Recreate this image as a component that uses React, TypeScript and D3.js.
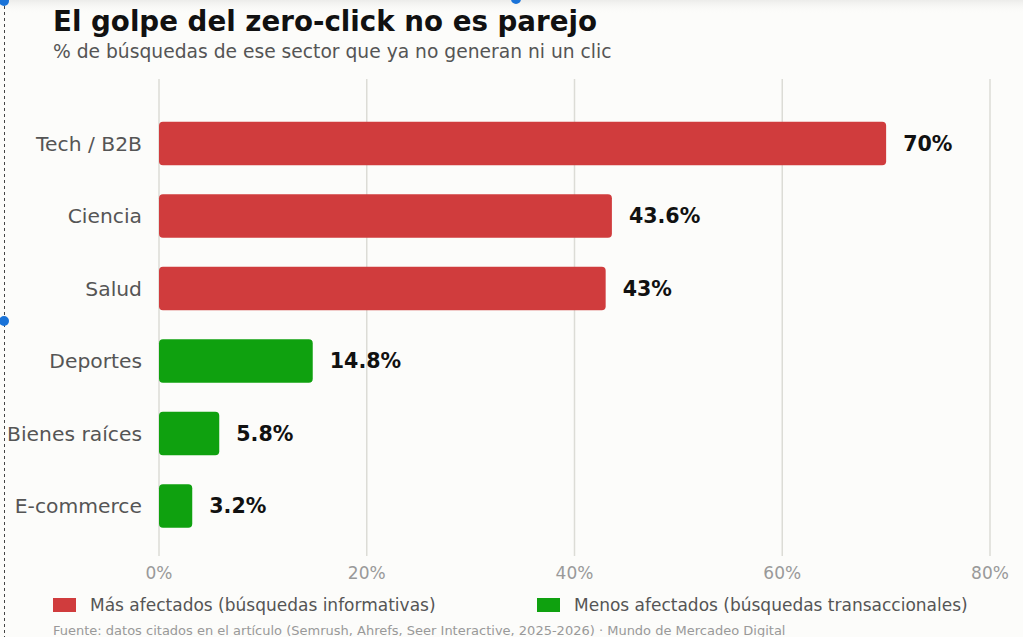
import React from "react";
import * as d3 from "d3";

const categories = ["Tech / B2B", "Ciencia", "Salud", "Deportes", "Bienes raíces", "E-commerce"];
const values = [70, 43.6, 43, 14.8, 5.8, 3.2];
const groups = ["more", "more", "more", "less", "less", "less"];
const xTicks = [0, 20, 40, 60, 80];
const legendLabels = ["Más afectados (búsquedas informativas)", "Menos afectados (búsquedas transaccionales)"];

const W = 1023;
const H = 637;
const FONT = "'DejaVu Sans', Verdana, sans-serif";
const RED = "#d03c3d";
const GREEN = "#0fa10f";

export default function App() {
  const x = d3.scaleLinear().domain([0, 80]).range([159, 990]);
  const y = d3
    .scaleBand<string>()
    .domain(categories)
    .range([107.25, 542.25])
    .paddingInner(0.4)
    .paddingOuter(0.2);
  const color = (g: string) => (g === "more" ? RED : GREEN);
  const fmt = (v: number) => `${v}%`;

  return (
    <svg
      width={W}
      height={H}
      style={{ position: "fixed", left: 0, top: 0, background: "#fcfcfa" }}
    >
      <defs>
        <linearGradient id="topShade" x1="0" y1="0" x2="0" y2="1">
          <stop offset="0" stopColor="#ececea" />
          <stop offset="1" stopColor="#fcfcfa" stopOpacity="0" />
        </linearGradient>
      </defs>
      <rect x={0} y={0} width={W} height={H} fill="#fcfcfa" />
      <rect x={0} y={0} width={W} height={14} fill="url(#topShade)" />

      <text x={53} y={31} fontFamily={FONT} fontWeight="bold" fontSize={27.7} fill="#111">
        El golpe del zero-click no es parejo
      </text>
      <text x={53} y={58} fontFamily={FONT} fontSize={18.7} fill="#555">
        % de búsquedas de ese sector que ya no generan ni un clic
      </text>

      {xTicks.map((t) => (
        <g key={t}>
          <line x1={x(t)} x2={x(t)} y1={79} y2={556} stroke="#dcdcd6" strokeWidth={1.5} />
          <text
            x={x(t)}
            y={579}
            textAnchor="middle"
            fontFamily={FONT}
            fontSize={17}
            fill="#999"
          >
            {fmt(t)}
          </text>
        </g>
      ))}

      {categories.map((c, i) => {
        const y0 = y(c) as number;
        const bw = y.bandwidth();
        const v = values[i];
        return (
          <g key={c}>
            <rect
              x={x(0)}
              y={y0}
              width={x(v) - x(0)}
              height={bw}
              rx={4}
              ry={4}
              fill={color(groups[i])}
            />
            <text
              x={142}
              y={y0 + bw / 2}
              dy="0.36em"
              textAnchor="end"
              fontFamily={FONT}
              fontSize={20.3}
              fill="#555"
            >
              {c}
            </text>
            <text
              x={x(v) + 17}
              y={y0 + bw / 2}
              dy="0.36em"
              fontFamily={FONT}
              fontWeight="bold"
              fontSize={20.6}
              fill="#111"
            >
              {fmt(v)}
            </text>
          </g>
        );
      })}

      {legendLabels.map((l, i) => {
        const lx = i === 0 ? 53 : 537;
        return (
          <g key={l}>
            <rect x={lx} y={598} width={23} height={14} fill={i === 0 ? RED : GREEN} />
            <text x={lx + 37} y={611} fontFamily={FONT} fontSize={17} fill="#555">
              {l}
            </text>
          </g>
        );
      })}

      <text x={53} y={635} fontFamily={FONT} fontSize={13} fill="#999">
        Fuente: datos citados en el artículo (Semrush, Ahrefs, Seer Interactive, 2025-2026) · Mundo de Mercadeo Digital
      </text>

      <line x1={4.5} x2={4.5} y1={0} y2={H} stroke="#444" strokeWidth={1} strokeDasharray="3,3" />
      <circle cx={4} cy={1} r={5} fill="#1a73d8" />
      <circle cx={516} cy={-1} r={5} fill="#1a73d8" />
      <circle cx={4} cy={321} r={5} fill="#1a73d8" />
    </svg>
  );
}
